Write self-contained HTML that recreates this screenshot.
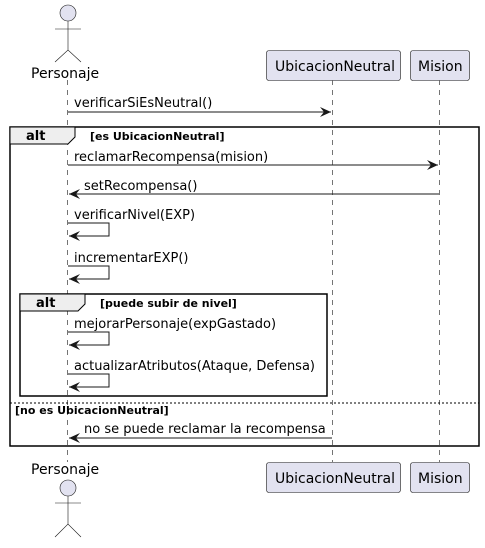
<!DOCTYPE html>
<html><head><meta charset="utf-8"><style>
body{margin:0;background:#fff}
text{font-family:"DejaVu Sans","Liberation Sans",sans-serif}
</style></head><body>
<svg width="485" height="543" viewBox="0 0 485 543" xmlns="http://www.w3.org/2000/svg">
<defs><marker id="a" markerWidth="12" markerHeight="10" refX="11" refY="5" orient="auto" markerUnits="userSpaceOnUse"><path d="M0,0 L11,5 L0,10 L4,5 Z" fill="#181818"/></marker></defs>
<g stroke="#181818" stroke-width="0.6" stroke-dasharray="5,5">
<line x1="67.5" y1="80" x2="67.5" y2="462"/>
<line x1="332.5" y1="80" x2="332.5" y2="462"/>
<line x1="439.5" y1="80" x2="439.5" y2="462"/>
</g>
<!-- actors -->
<g fill="#E2E2F0" stroke="#181818" stroke-width="0.6">
<circle cx="68" cy="13" r="8"/>
<path d="M68,21 V50 M55,29 H81 M55,62 L68,50 L81,62" fill="none"/>
<circle cx="68" cy="488" r="8"/>
<path d="M68,496 V524 M55,503 H81 M55,537 L68,524 L81,537" fill="none"/>
<rect x="266.5" y="50.5" width="134" height="30" rx="2.5"/>
<rect x="410.5" y="50.5" width="59" height="30" rx="2.5"/>
<rect x="266.5" y="462.5" width="134" height="30" rx="2.5"/>
<rect x="410.5" y="462.5" width="59" height="30" rx="2.5"/>
</g>
<g font-size="14" fill="#000">
<text x="31" y="78">Personaje</text>
<text x="31" y="196" dy="0" display="none">x</text>
<text x="275" y="71">UbicacionNeutral</text>
<text x="418" y="71">Mision</text>
<text x="31" y="196" display="none"></text>
<text x="31" y="196" display="none"></text>
<text x="31" y="196" display="none"></text>
<text x="31" y="196" display="none"></text>
<text x="31" y="196" display="none"></text>
<text x="31" y="196" display="none"></text>
<text x="31" y="196" display="none"></text>
<text x="31" y="196" display="none"></text>
<text x="30" y="196" display="none"></text>
<text x="30" y="196" display="none"></text>
<text x="31" y="196" display="none"></text>
<text x="30" y="196" display="none"></text>
<text x="31" y="196" display="none"></text>
<text x="30" y="196" display="none"></text>
<text x="31" y="196" display="none"></text>
<text x="31" y="196" display="none"></text>
<text x="31" y="474">Personaje</text>
<text x="275" y="483">UbicacionNeutral</text>
<text x="418" y="483">Mision</text>
</g>
<!-- frames -->
<g fill="none" stroke="#000" stroke-width="1.5">
<rect x="10" y="127" width="469" height="319"/>
<rect x="20" y="294" width="307" height="102"/>
</g>
<path d="M10,127 H75 V137 L68,144 H10 Z" fill="#EEEEEE" stroke="#000" stroke-width="1"/>
<path d="M20,294 H85 V304 L78,311 H20 Z" fill="#EEEEEE" stroke="#000" stroke-width="1"/>
<line x1="10" y1="403" x2="479" y2="403" stroke="#000" stroke-width="1" stroke-dasharray="2,2"/>
<g font-size="11" font-weight="bold" fill="#000">
<text x="26" y="140" font-size="13">alt</text>
<text x="90" y="140">[es UbicacionNeutral]</text>
<text x="36" y="307" font-size="13">alt</text>
<text x="100" y="307">[puede subir de nivel]</text>
<text x="15" y="414">[no es UbicacionNeutral]</text>
</g>
<!-- messages -->
<g stroke="#181818" stroke-width="1" fill="none" marker-end="url(#a)">
<line x1="68" y1="112" x2="331" y2="112"/>
<line x1="68" y1="165" x2="438" y2="165"/>
<line x1="439" y1="194" x2="69" y2="194"/>
<path d="M68,223 H109 V236 H69"/>
<path d="M68,266 H109 V279 H69"/>
<path d="M68,332 H109 V345 H69"/>
<path d="M68,374 H109 V387 H69"/>
<line x1="332" y1="158" x2="332" y2="158" marker-end="none"/>
<line x1="332" y1="438" x2="69" y2="438"/>
</g>
<g font-size="13" fill="#000">
<text x="74" y="107">verificarSiEsNeutral()</text>
<text x="74" y="161">reclamarRecompensa(mision)</text>
<text x="84" y="190">setRecompensa()</text>
<text x="74" y="219">verificarNivel(EXP)</text>
<text x="74" y="262">incrementarEXP()</text>
<text x="74" y="328">mejorarPersonaje(expGastado)</text>
<text x="74" y="370">actualizarAtributos(Ataque, Defensa)</text>
<text x="84" y="433">no se puede reclamar la recompensa</text>
</g>
</svg>
</body></html>
